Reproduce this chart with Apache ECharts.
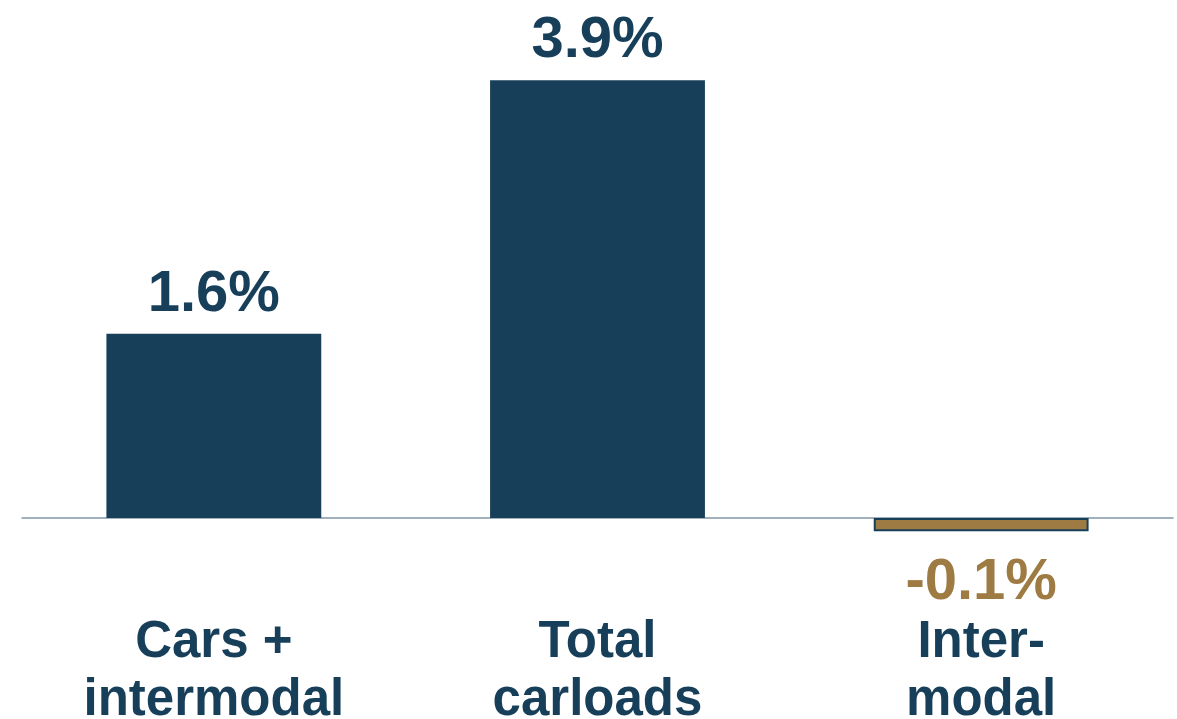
<!DOCTYPE html>
<html>
<head>
<meta charset="utf-8">
<script src="https://cdn.jsdelivr.net/npm/echarts@6/dist/echarts.min.js"></script>
<style>
html,body{margin:0;padding:0;background:#fff;}
#c{width:1177px;height:719px;}
</style>
</head>
<body>
<div id="c"></div>
<script>
const categories = ["Cars +\nintermodal", "Total\ncarloads", "Inter-\nmodal"];
const values = [1.64, 3.9, -0.12];
const labelText = ["1.6%", "3.9%", "-0.1%"];

const NAVY = "#173F5A";
const GOLD = "#9E7B42";
const FONT = "'Liberation Sans', Arial, sans-serif";

const chart = echarts.init(document.getElementById('c'));
chart.setOption({
  animation: false,
  grid: { left: 22, right: 4, top: 69, bottom: 145, containLabel: false, outerBoundsMode: 'none' },
  xAxis: {
    type: 'category',
    data: categories,
    axisLine: { onZero: true, lineStyle: { color: '#8197A8', width: 1.5 } },
    axisTick: { show: false },
    axisLabel: {
      interval: 0,
      margin: 40,
      color: NAVY,
      fontFamily: FONT,
      fontWeight: 'bold',
      fontSize: 51,
      lineHeight: 58
    }
  },
  yAxis: {
    type: 'value',
    min: -0.5,
    max: 4,
    show: false,
    splitLine: { show: false }
  },
  series: [{
    type: 'bar',
    barWidth: '56%',
    data: values.map((v, i) => ({
      value: v,
      itemStyle: v < 0
        ? { color: GOLD, borderColor: NAVY, borderWidth: 2 }
        : { color: NAVY },
      label: {
        show: true,
        position: v < 0 ? 'bottom' : 'top',
        distance: v < 0 ? 23 : 10,
        formatter: labelText[i],
        color: v < 0 ? GOLD : NAVY,
        fontFamily: FONT,
        fontWeight: 'bold',
        fontSize: 58
      }
    }))
  }]
});
</script>
</body>
</html>
